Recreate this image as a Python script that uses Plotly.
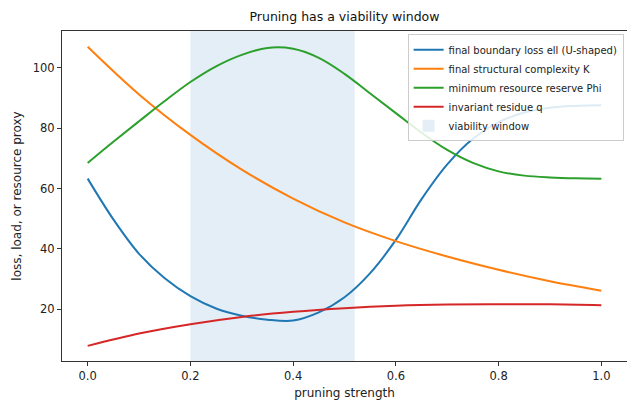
import plotly.graph_objects as go

# ---- data ----
strength_loss = [0.0, 0.05, 0.1, 0.15, 0.2, 0.25, 0.3, 0.35, 0.4, 0.45, 0.5,
                 0.55, 0.6, 0.65, 0.7, 0.75, 0.8, 0.85, 0.9, 0.95, 1.0]
loss_ell = [63.3, 49.8, 38.4, 30.3, 24.4, 20.3, 17.9, 16.6, 16.3, 19.0, 24.0,
            32.0, 43.0, 56.5, 68.0, 76.5, 82.0, 85.2, 86.8, 87.4, 87.6]

strength_k = [0.0, 0.1, 0.2, 0.3, 0.4, 0.5, 0.6, 0.7, 0.8, 0.9, 1.0]
complexity_k = [107.0, 91.2, 77.8, 66.3, 56.7, 48.8, 42.6, 37.5, 33.1, 29.3, 26.2]

strength_phi = [0.0, 0.05, 0.1, 0.15, 0.2, 0.25, 0.3, 0.35, 0.4, 0.45, 0.5,
                0.55, 0.6, 0.65, 0.7, 0.75, 0.8, 0.85, 0.9, 0.95, 1.0]
reserve_phi = [68.5, 75.5, 82.3, 89.0, 95.3, 100.5, 104.3, 106.6, 106.3, 103.3, 98.0,
               91.5, 85.0, 78.5, 72.8, 68.5, 65.7, 64.3, 63.7, 63.4, 63.3]

strength_q = [0.0, 0.1, 0.2, 0.3, 0.4, 0.5, 0.6, 0.7, 0.8, 0.9, 1.0]
residue_q = [7.9, 12.0, 15.1, 17.5, 19.2, 20.4, 21.2, 21.6, 21.7, 21.7, 21.4]

window_start = 0.2
window_end = 0.52

x_ticks = [0.0, 0.2, 0.4, 0.6, 0.8, 1.0]
y_ticks = [20, 40, 60, 80, 100]

series = [
    ("final boundary loss ell (U-shaped)", strength_loss, loss_ell, "#1f77b4"),
    ("final structural complexity K", strength_k, complexity_k, "#ff7f0e"),
    ("minimum resource reserve Phi", strength_phi, reserve_phi, "#2ca02c"),
    ("invariant residue q", strength_q, residue_q, "#d62728"),
]

fig = go.Figure()
for name, xs, ys, color in series:
    fig.add_trace(go.Scatter(
        x=xs, y=ys, name=name, mode="lines",
        line=dict(color=color, width=2, shape="spline", smoothing=1.0),
    ))

fig.add_shape(
    type="rect", xref="x", yref="paper",
    x0=window_start, x1=window_end, y0=0, y1=1,
    fillcolor="rgba(31,119,180,0.12)", line=dict(width=0),
    layer="below", showlegend=True, name="viability window", legendrank=1005,
)

font_family = "DejaVu Sans"
axis_common = dict(
    showgrid=False, zeroline=False, showline=True, mirror=True,
    linecolor="#333333", linewidth=1, ticks="outside", ticklen=4,
    tickcolor="#333333", tickfont=dict(size=11.5, color="#222222"),
)

fig.update_layout(
    width=627, height=403,
    margin=dict(l=62, r=0, t=31, b=42),
    paper_bgcolor="white", plot_bgcolor="white",
    font=dict(family=font_family, color="#222222"),
    title=dict(text="Pruning has a viability window", x=(62 + 627) / 2 / 627,
               xanchor="center", y=1 - 17 / 403, yanchor="middle",
               font=dict(size=12.5, color="#111111")),
    xaxis=dict(range=[-0.05, 1.05], tickvals=x_ticks, tickformat=".1f",
               title=dict(text="pruning strength", font=dict(size=12), standoff=6),
               **axis_common),
    yaxis=dict(range=[2.9, 112.2], tickvals=y_ticks,
               title=dict(text="loss, load, or resource proxy", font=dict(size=12), standoff=8),
               **axis_common),
    legend=dict(x=0.994, y=0.99, xanchor="right", yanchor="top",
                bgcolor="rgba(255,255,255,0.85)", bordercolor="#cccccc", borderwidth=1,
                font=dict(size=10, color="#222222"), tracegroupgap=0,
                itemwidth=30),
    showlegend=True,
)

fig.write_html("out.html",
               config={"displayModeBar": False},
               post_script="document.body.style.margin='0px';document.body.style.padding='0px';")
